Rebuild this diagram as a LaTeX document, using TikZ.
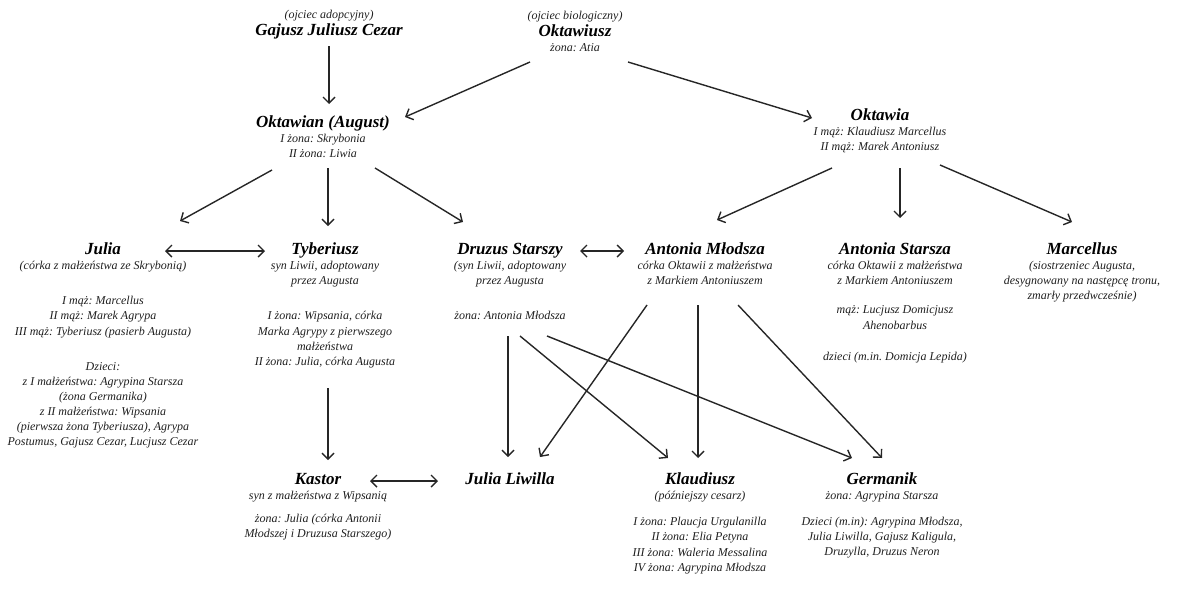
\documentclass[tikz,border=0pt]{standalone}
\usepackage{fontspec}
\setmainfont{Liberation Serif}
\frenchspacing
\usetikzlibrary{positioning,calc,arrows.meta}

\begin{document}
\begin{tikzpicture}[x=1pt,y=-1pt,
  ttl/.style={font=\fontsize{17}{20}\selectfont\bfseries\itshape, text height=12pt, text depth=4pt, inner sep=0pt, anchor=base},
  info/.style={font=\fontsize{12}{15.1}\selectfont\itshape, align=center, inner sep=0pt, text=black!88},
  arr/.style={-{Straight Barb[length=6pt,width=12pt]}, line width=1.4pt, black!85},
  dbl/.style={{Straight Barb[length=6pt,width=12pt]}-{Straight Barb[length=6pt,width=12pt]}, line width=1.4pt, black!85}]
\useasboundingbox (0,0) rectangle (1182,592);

% Text Node
\node[ttl] (cezar) at (329,35) {Gajusz Juliusz Cezar};
\node[info, above=2pt of cezar] (cezarTxt) {(ojciec adopcyjny)};
% Text Node
\node[ttl] (oktawiusz) at (575,36) {Oktawiusz};
\node[info, above=2pt of oktawiusz] (oktawiuszUp) {(ojciec biologiczny)};
\node[info, below=3pt of oktawiusz] (oktawiuszTxt) {żona: Atia};
% Text Node
\node[ttl] (oktawian) at (323,127) {Oktawian (August)};
\node[info, below=3pt of oktawian] (oktawianTxt) {I żona: Skrybonia\\II żona: Liwia};
% Text Node
\node[ttl] (oktawia) at (880,120) {Oktawia};
\node[info, below=3pt of oktawia] (oktawiaTxt) {I mąż: Klaudiusz Marcellus\\II mąż: Marek Antoniusz};

% Text Node
\node[ttl] (julia) at (103,254) {Julia};
\node[info, below=3pt of julia] (juliaTxt) {(córka z małżeństwa ze Skrybonią)\\[20pt]
  I mąż: Marcellus\\II mąż: Marek Agrypa\\III mąż: Tyberiusz (pasierb Augusta)\\[20pt]
  Dzieci:\\z I małżeństwa: Agrypina Starsza\\(żona Germanika)\\z II małżeństwa: Wipsania\\
  (pierwsza żona Tyberiusza), Agrypa\\Postumus, Gajusz Cezar, Lucjusz Cezar};
% Text Node
\node[ttl] (tyberiusz) at (325,254) {Tyberiusz};
\node[info, below=3pt of tyberiusz] (tyberiuszTxt) {syn Liwii, adoptowany\\przez Augusta\\[20pt]
  I żona: Wipsania, córka\\Marka Agrypy z pierwszego\\małżeństwa\\II żona: Julia, córka Augusta};
% Text Node
\node[ttl] (druzus) at (510,254) {Druzus Starszy};
\node[info, below=3pt of druzus] (druzusTxt) {(syn Liwii, adoptowany\\przez Augusta\\[20pt]
  żona: Antonia Młodsza};
% Text Node
\node[ttl] (antoniaM) at (705,254) {Antonia Młodsza};
\node[info, below=3pt of antoniaM] (antoniaMTxt) {córka Oktawii z małżeństwa\\z Markiem Antoniuszem};
% Text Node
\node[ttl] (antoniaS) at (895,254) {Antonia Starsza};
\node[info, below=3pt of antoniaS] (antoniaSTxt) {córka Oktawii z małżeństwa\\z Markiem Antoniuszem\\[14pt]
  mąż: Lucjusz Domicjusz\\Ahenobarbus\\[16pt]dzieci (m.in. Domicja Lepida)};
% Text Node
\node[ttl] (marcellus) at (1082,254) {Marcellus};
\node[info, below=3pt of marcellus] (marcellusTxt) {(siostrzeniec Augusta,\\desygnowany na następcę tronu,\\zmarły przedwcześnie)};

% Text Node
\node[ttl] (kastor) at (318,484) {Kastor};
\node[info, below=3pt of kastor] (kastorTxt) {syn z małżeństwa z Wipsanią\\[8pt]
  żona: Julia (córka Antonii\\Młodszej i Druzusa Starszego)};
% Text Node
\node[ttl] (liwilla) at (510,484) {Julia Liwilla};
% Text Node
\node[ttl] (klaudiusz) at (700,484) {Klaudiusz};
\node[info, below=3pt of klaudiusz] (klaudiuszTxt) {(późniejszy cesarz)\\[11pt]
  I żona: Plaucja Urgulanilla\\II żona: Elia Petyna\\III żona: Waleria Messalina\\IV żona: Agrypina Młodsza};
% Text Node
\node[ttl] (germanik) at (882,484) {Germanik};
\node[info, below=3pt of germanik] (germanikTxt) {żona: Agrypina Starsza\\[11pt]
  Dzieci (m.in): Agrypina Młodsza,\\Julia Liwilla, Gajusz Kaligula,\\Druzylla, Druzus Neron};

% Arrows: first generation
\draw[arr] ($(cezar.base)+(0,11)$) -- ($(oktawian.base)+(6,-23)$);
\draw[arr] ($(oktawiusz.base)+(-45,26)$) -- ($(oktawian.base)+(82,-10)$);
\draw[arr] ($(oktawiusz.base)+(53,26)$) -- ($(oktawia.base)+(-68,-2)$);

% Arrows: children of Oktawian and Oktawia
\draw[arr] ($(oktawian.base)+(-51,43)$) -- ($(julia.base)+(77,-33)$);
\draw[arr] ($(oktawian.base)+(5,41)$) -- ($(tyberiusz.base)+(3,-28)$);
\draw[arr] ($(oktawian.base)+(52,41)$) -- ($(druzus.base)+(-47,-32)$);
\draw[arr] ($(oktawia.base)+(-48,48)$) -- ($(antoniaM.base)+(12,-34)$);
\draw[arr] ($(oktawia.base)+(20,48)$) -- ($(antoniaS.base)+(5,-36)$);
\draw[arr] ($(oktawia.base)+(60,45)$) -- ($(marcellus.base)+(-10,-32)$);

% Marriages
\draw[dbl] ($(julia.base)+(62,-3)$) -- ($(tyberiusz.base)+(-60,-3)$);
\draw[dbl] ($(druzus.base)+(70,-3)$) -- ($(antoniaM.base)+(-81,-3)$);
\draw[dbl] ($(kastor.base)+(52,-3)$) -- ($(liwilla.base)+(-72,-3)$);

% Arrows: grandchildren
\draw[arr] ($(tyberiusz.base)+(3,134)$) -- ($(kastor.base)+(10,-24)$);
\draw[arr] ($(druzus.base)+(-2,82)$) -- ($(liwilla.base)+(-2,-27)$);
\draw[arr] ($(druzus.base)+(10,82)$) -- ($(klaudiusz.base)+(-32,-26)$);
\draw[arr] ($(druzus.base)+(37,82)$) -- ($(germanik.base)+(-30,-26)$);
\draw[arr] ($(antoniaM.base)+(-58,51)$) -- ($(liwilla.base)+(30,-27)$);
\draw[arr] ($(antoniaM.base)+(-7,51)$) -- ($(klaudiusz.base)+(-2,-26)$);
\draw[arr] ($(antoniaM.base)+(33,51)$) -- ($(germanik.base)+(0,-26)$);

\end{tikzpicture}
\end{document}
